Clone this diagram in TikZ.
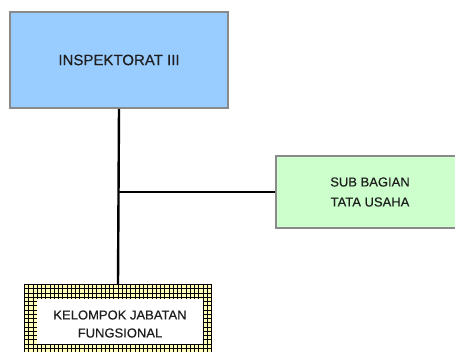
\documentclass[tikz,border=0pt]{standalone}
\usepackage{fontspec}
\setmainfont{Liberation Sans}[FakeBold=0.35]
\definecolor{boxblue}{HTML}{99CCFF}
\definecolor{boxgreen}{HTML}{CCFFCC}
\definecolor{cellyellow}{HTML}{FFFFB8}
\definecolor{edgegray}{HTML}{8A8A8A}
\definecolor{txt}{HTML}{1E1E1E}
\tikzset{
  unitbox/.style={draw=edgegray, line width=1.6pt, rectangle, inner sep=0pt, text=txt, align=center},
  conn/.style={draw=black, line width=2.4pt},
}
\begin{document}
\begin{tikzpicture}[x=1pt,y=-1pt]
\useasboundingbox (0,0) rectangle (455,352);
% top box
\node[unitbox, fill=boxblue, minimum width=218pt, minimum height=96pt,
      font=\fontsize{15}{18}\selectfont] (top) at (119,60) {INSPEKTORAT III};
% green box
\node[unitbox, fill=boxgreen, minimum width=188pt, minimum height=72pt,
      font=\fontsize{13}{20}\selectfont] (sub) at (370,192) {SUB BAGIAN\\TATA USAHA};
% bottom hatched box
\node[rectangle, inner sep=0pt, minimum width=188pt, minimum height=71pt] (fung) at (118,319.5) {};
\fill[cellyellow] (fung.north west) rectangle (fung.south east);
\begin{scope}
  \clip (fung.north west) rectangle (fung.south east);
  \foreach \i in {0,...,45} {
    \draw[black, line width=0.8pt] ({24.5+4.25*\i},284) -- ({24.5+4.25*\i},356);
  }
  \foreach \j in {0,...,17} {
    \draw[black, line width=0.8pt] (24,{284.5+4.25*\j}) -- (212,{284.5+4.25*\j});
  }
\end{scope}
\node[rectangle, fill=white, inner sep=0pt, minimum width=166pt, minimum height=45pt] (fungin) at (120,321.5) {};
\node[text=txt, align=center, font=\fontsize{13}{18}\selectfont] (fungtext) at (120,324) {KELOMPOK JABATAN\\FUNGSIONAL};
% connectors
\coordinate (j) at (top.south |- sub.west);
\draw[conn] (top.south) -- (fung.north);
\draw[conn, line width=2pt] (j) -- (sub.west);
\end{tikzpicture}
\end{document}
